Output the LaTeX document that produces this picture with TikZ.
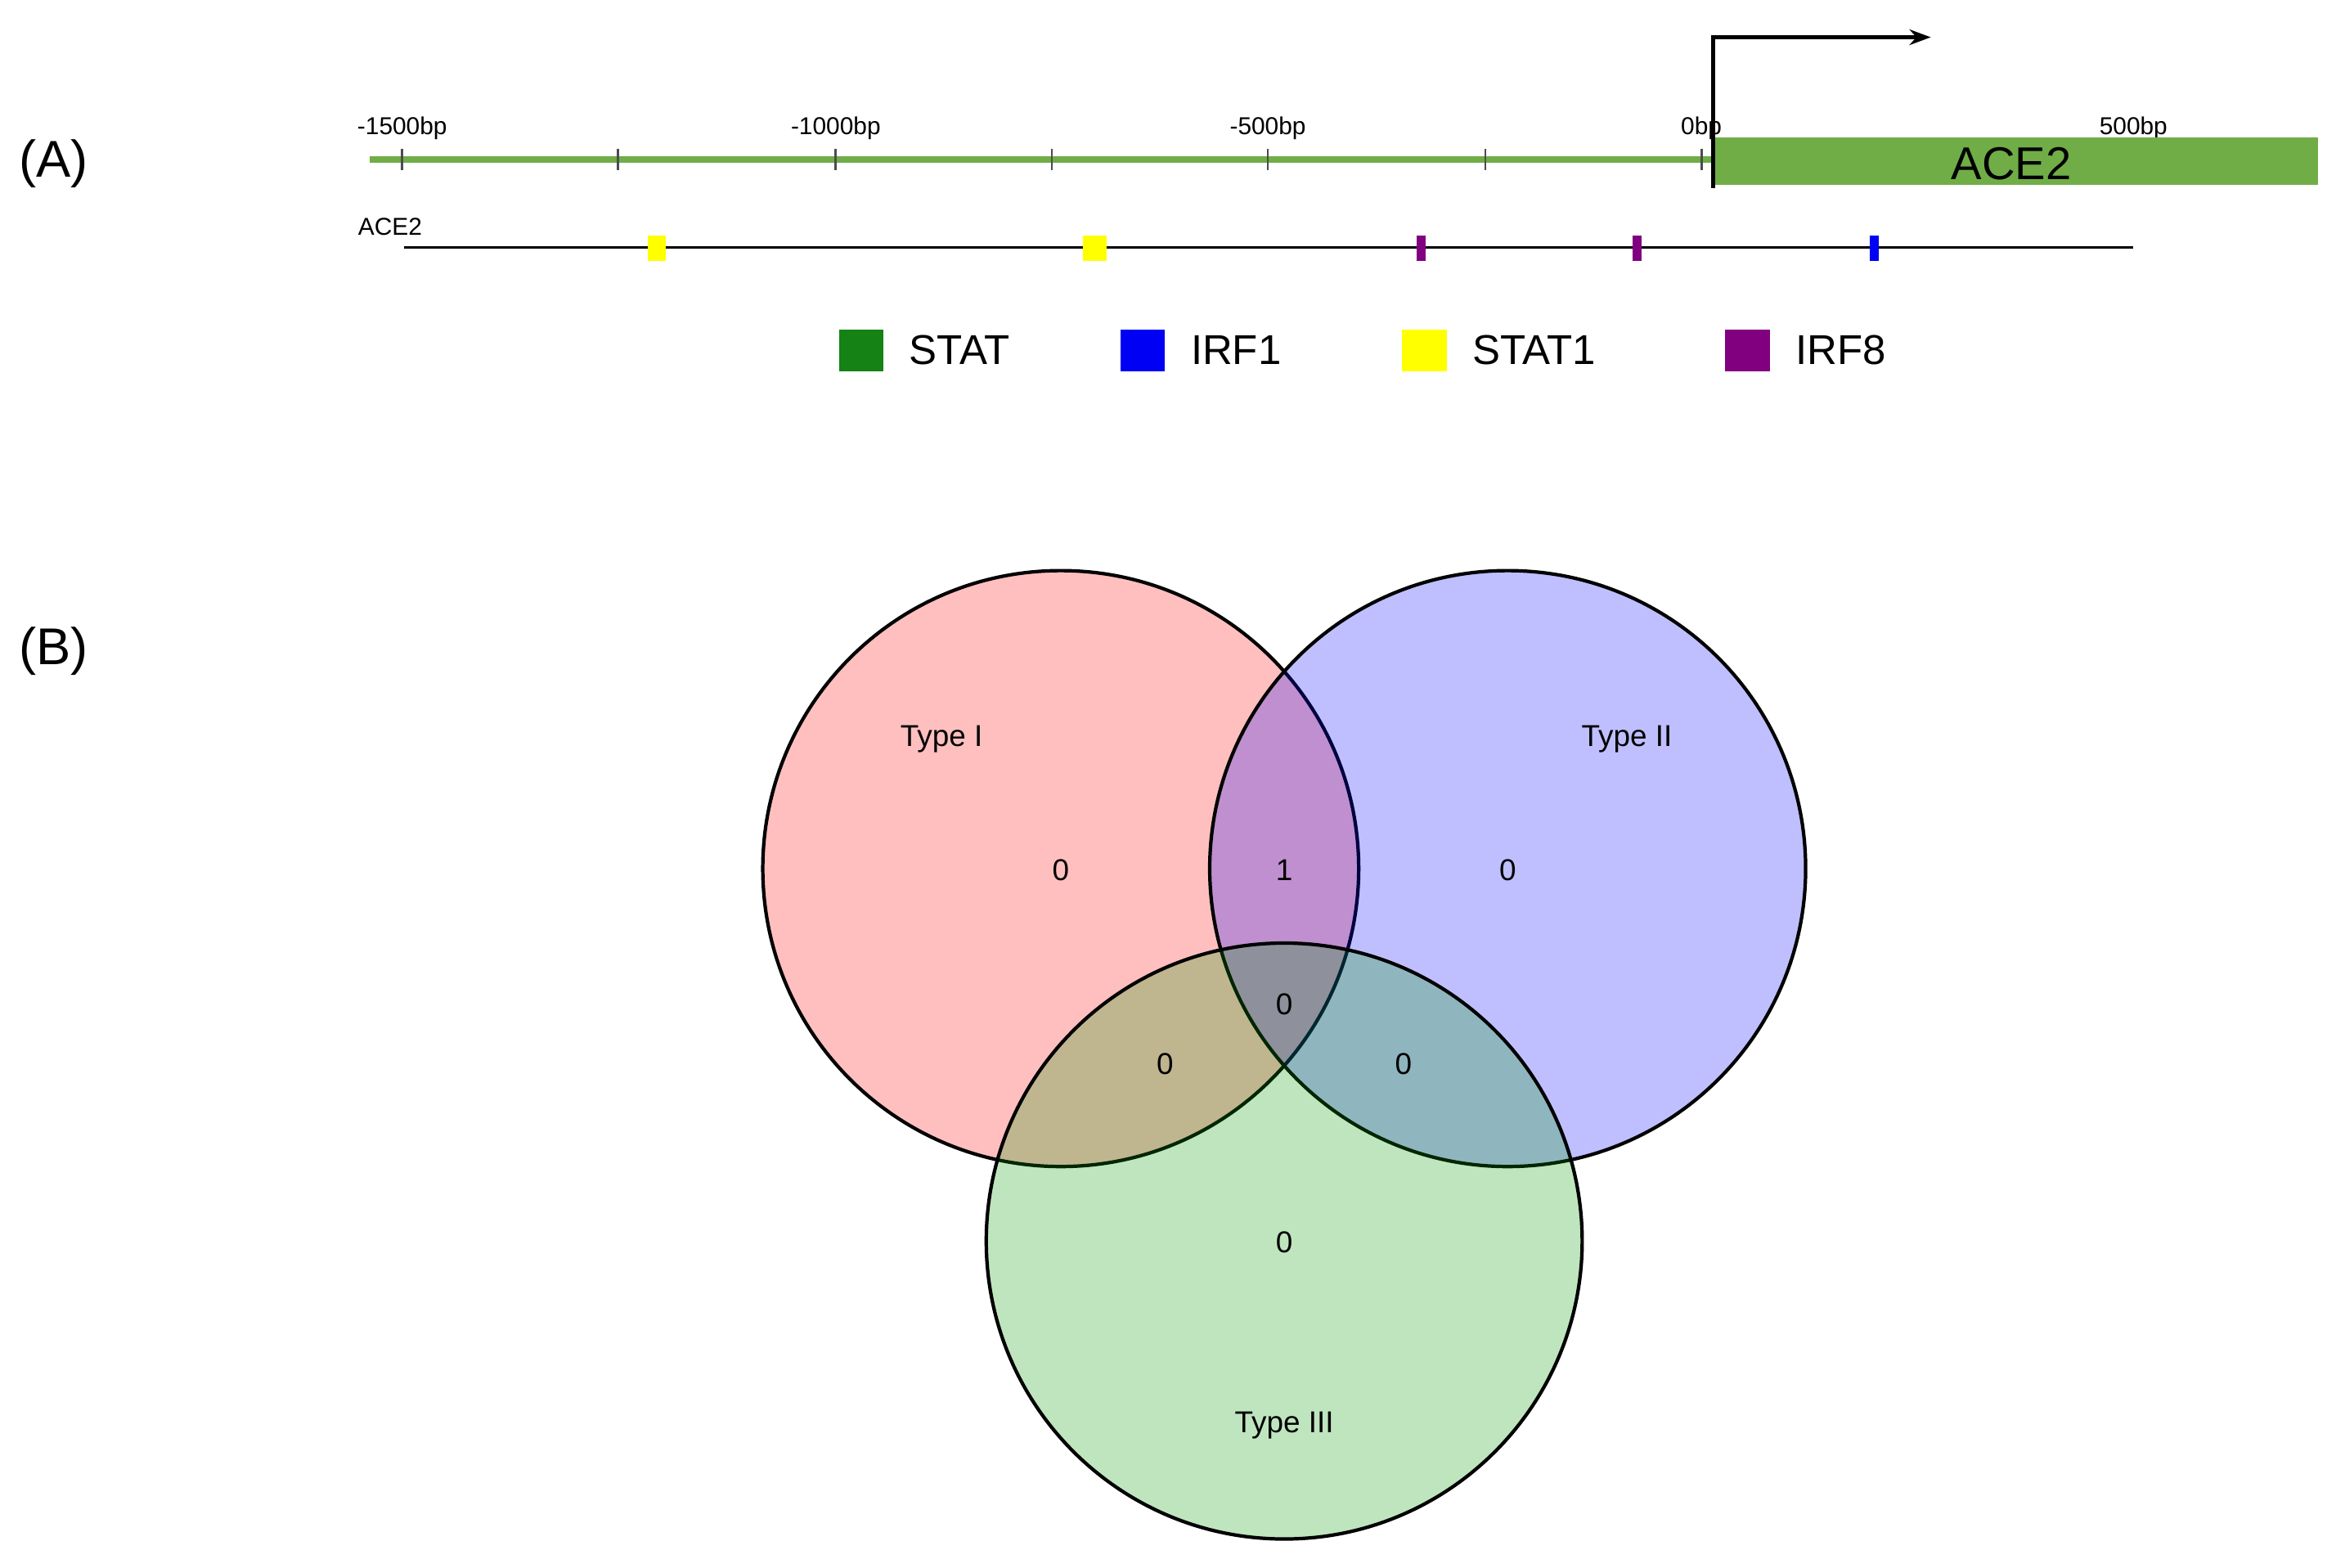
\documentclass[tikz,border=0pt]{standalone}
\usepackage{fontspec}
\setmainfont{Liberation Sans}
\usetikzlibrary{arrows.meta}
\definecolor{axisgreen}{RGB}{112,173,71}
\definecolor{statgreen}{RGB}{20,130,20}
\definecolor{irfblue}{RGB}{0,0,245}
\definecolor{statyellow}{RGB}{255,255,0}
\definecolor{irfpurple}{RGB}{128,0,128}
\tikzset{
  ticklab/.style={font=\fontsize{8.5}{8.5}\selectfont, inner sep=0pt},
  legbox/.style={minimum width=5.46mm, minimum height=5.1mm, inner sep=0pt},
  legtext/.style={font=\fontsize{14.5}{14.5}\selectfont, anchor=west, inner sep=0pt},
  venn/.style={draw=black, line width=1.2pt, fill opacity=.25},
  vlab/.style={font=\fontsize{10.5}{10.5}\selectfont, inner sep=0pt},
}
\begin{document}
\begin{tikzpicture}[x=0.018214cm, y=-0.018214cm]
\useasboundingbox (0,0) rectangle (1568,1052);
% panel labels
\node[font=\fontsize{18}{18}\selectfont] (labA) at (36,110) {(A)};
\node[font=\fontsize{18}{18}\selectfont] (labB) at (36,437) {(B)};
% axis
\draw[axisgreen, line width=2.5pt] (248,107) -- (1150,107);
\foreach \x in {270,415,561,706,851,997,1142}
  \draw[black!70, line width=0.8pt] (\x,100) -- (\x,114);
\foreach \x/\t in {270/-1500bp,561/-1000bp,851/-500bp,1142/0bp,1432/500bp}
  \node[ticklab] at (\x,86) {\t};
% gene box and TSS arrow
\fill[axisgreen] (1150,92) rectangle (1556,124);
\node[font=\fontsize{16}{16}\selectfont] (gene) at (1350,110) {ACE2};
\draw[line width=1.5pt, -{Stealth[length=2.6mm,width=1.9mm]}] (1150,126) -- (1150,25) -- (1296,25);
% binding site track
\node[ticklab, anchor=west] (track) at (240,152) {ACE2};
\draw[line width=0.9pt] (271,166) -- (1432,166);
\fill[statyellow] (435,158) rectangle (447,175);
\fill[statyellow] (727,158) rectangle (743,175);
\fill[irfpurple] (951,158) rectangle (957,175);
\fill[irfpurple] (1096,158) rectangle (1102,175);
\fill[irfblue] (1255,158) rectangle (1261,175);
% legend
\foreach \x/\c/\t in {578/statgreen/STAT,767/irfblue/IRF1,956/statyellow/STAT1,1173/irfpurple/IRF8}{
  \node[legbox, fill=\c] (leg\t) at (\x,235) {};
  \node[legtext] at (\x+32,235) {\t};
}
% venn
\path[venn, fill=red] (712,583) circle (200);
\path[venn, fill=blue] (1012,583) circle (200);
\path[venn, fill=green!60!black] (862,833) circle (200);
\node[vlab] (t1) at (632,496) {Type I};
\node[vlab] (t2) at (1092,496) {Type II};
\node[vlab] (t3) at (862,957) {Type III};
\foreach \x/\y/\n in {712/584/0,862/584/1,1012/584/0,862/674/0,782/714/0,942/714/0,862/834/0}
  \node[vlab] at (\x,\y) {\n};
\end{tikzpicture}
\end{document}
